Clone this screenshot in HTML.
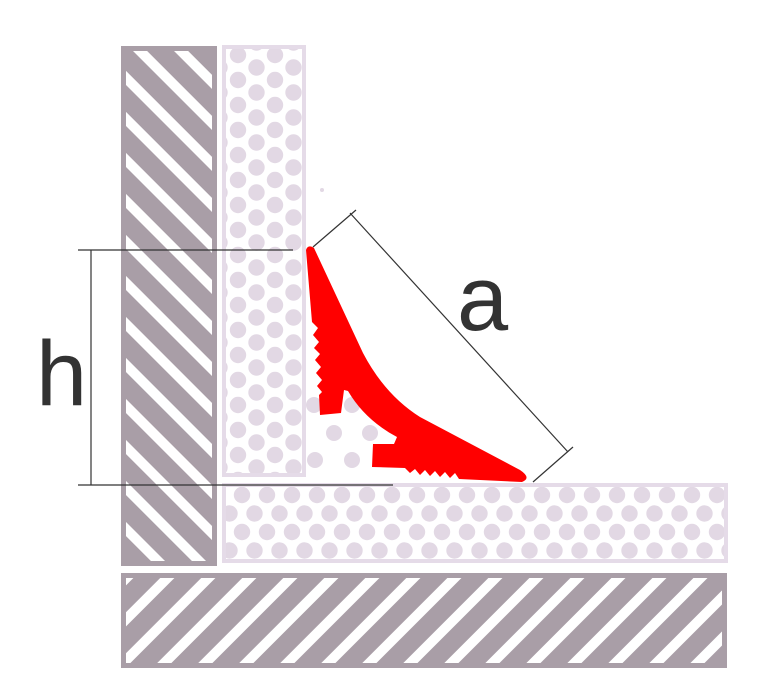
<!DOCTYPE html>
<html><head><meta charset="utf-8"><style>html,body{margin:0;padding:0;background:#fff}svg{display:block}</style></head>
<body>
<svg width="764" height="696" viewBox="0 0 764 696" xmlns="http://www.w3.org/2000/svg">
<defs>
<pattern id="hatchA" patternUnits="userSpaceOnUse" width="29" height="29" patternTransform="rotate(-45)">
<rect width="29" height="29" fill="#a99ea7"/><rect x="0" y="0" width="10" height="29" fill="#fff"/>
</pattern>
<pattern id="hatchB" patternUnits="userSpaceOnUse" width="29" height="29" patternTransform="rotate(45)">
<rect width="29" height="29" fill="#a99ea7"/><rect x="0" y="0" width="10" height="29" fill="#fff"/>
</pattern>
<pattern id="dotsV" patternUnits="userSpaceOnUse" x="229" y="49" width="37" height="25">
<circle cx="9" cy="6" r="8.2" fill="#e2d8e4"/><circle cx="27.5" cy="18.5" r="8.2" fill="#e2d8e4"/><circle cx="27.5" cy="-6.5" r="8.2" fill="#e2d8e4"/><circle cx="9" cy="31" r="8.2" fill="#e2d8e4"/>
</pattern>
<pattern id="dotsH" patternUnits="userSpaceOnUse" x="230" y="486" width="25" height="37">
<circle cx="12" cy="9" r="8.2" fill="#e2d8e4"/><circle cx="24.5" cy="27.5" r="8.2" fill="#e2d8e4"/><circle cx="-0.5" cy="27.5" r="8.2" fill="#e2d8e4"/><circle cx="12" cy="46" r="8.2" fill="#e2d8e4"/>
</pattern>
</defs>
<rect x="121" y="46" width="96" height="520" fill="#a99ea7"/>
<rect x="126" y="51" width="86" height="510" fill="url(#hatchA)"/>
<rect x="121" y="573" width="606" height="95" fill="#a99ea7"/>
<rect x="126" y="578" width="596" height="85" fill="url(#hatchB)"/>
<rect x="224" y="47" width="80" height="428" fill="url(#dotsV)" stroke="#e5dbe8" stroke-width="4"/>
<rect x="224" y="485" width="502" height="76" fill="url(#dotsH)" stroke="#e5dbe8" stroke-width="4"/>
<g fill="#e2d8e4">
<circle cx="314" cy="405" r="8"/><circle cx="352" cy="405" r="8"/>
<circle cx="334" cy="433" r="8"/><circle cx="370" cy="433" r="8"/>
<circle cx="315" cy="460" r="8"/><circle cx="352" cy="460" r="8"/>
<circle cx="322" cy="190" r="2"/>
</g>
<path fill="#ff0000" d="M306,250 Q308,244 314,248 L363,353 Q385,395 420,417 L520,470 Q532,478 522,482 L459,479 L455,473 L450,478 L445,472 L440,477 L435,471 L430,476 L425,470 L420,475 L415,469 L410,473 L405,468 L372,467 L373,444 L394,444 L397,437 Q365,420 348,391 L344,390 L341,413 L320,415 L319,395 L322,392 L317,386 L322,380 L316,373 L321,367 L315,360 L320,354 L314,348 L319,342 L313,335 L318,328 L312,322 Z"/>
<g stroke="#333" stroke-width="1.2" fill="none">
<line x1="78" y1="250" x2="293" y2="250"/>
<line x1="78" y1="485" x2="393" y2="485"/>
<line x1="91" y1="250" x2="91" y2="485"/>
<line x1="350" y1="213" x2="568" y2="452"/>
<line x1="313" y1="247" x2="356" y2="210"/>
<line x1="533" y1="482" x2="573" y2="447"/>
</g>
<text x="36" y="405" font-family="Liberation Sans, sans-serif" font-size="92" fill="#333">h</text>
<text x="457" y="330" font-family="Liberation Sans, sans-serif" font-size="92" fill="#333">a</text>
</svg>
</body></html>
